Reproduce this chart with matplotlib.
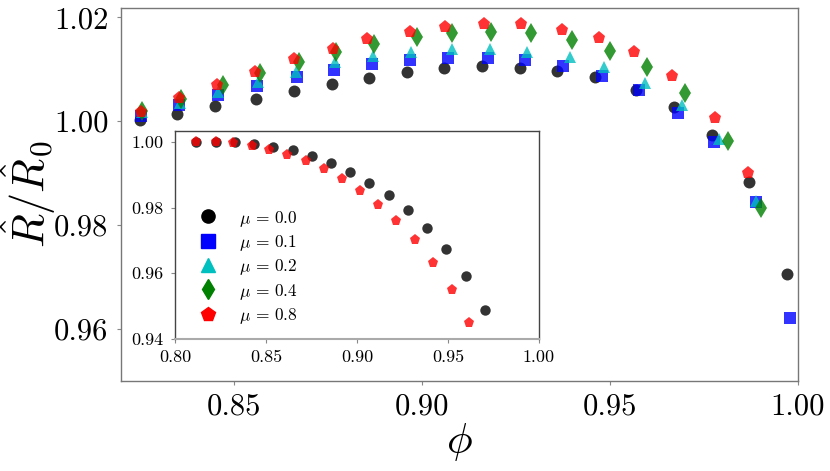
import matplotlib
matplotlib.use("Agg")
import matplotlib.pyplot as plt
from matplotlib.lines import Line2D

plt.rcParams['font.family'] = 'serif'
plt.rcParams['font.serif'] = ['cmr10']
plt.rcParams['mathtext.fontset'] = 'cm'
plt.rcParams['axes.formatter.use_mathtext'] = True

# ---- main panel data ----
phi_00 = [0.825, 0.835, 0.845, 0.856, 0.866, 0.876, 0.886, 0.896, 0.906, 0.916,
          0.926, 0.936, 0.946, 0.957, 0.967, 0.977, 0.987, 0.997]
R_00 = [1.0002, 1.0014, 1.0030, 1.0042, 1.0058, 1.0072, 1.0084, 1.0095, 1.0102, 1.0107,
        1.0103, 1.0097, 1.0085, 1.0061, 1.0027, 0.9973, 0.9883, 0.9705]

phi_01 = [0.8253, 0.8355, 0.8457, 0.8561, 0.8668, 0.8766, 0.8868, 0.8967, 0.9069, 0.9177,
          0.9275, 0.9374, 0.9480, 0.9578, 0.9680, 0.9776, 0.9888, 0.9978]
R_01 = [1.0011, 1.0031, 1.0051, 1.0068, 1.0085, 1.0098, 1.0110, 1.0117, 1.0121, 1.0122,
        1.0117, 1.0107, 1.0088, 1.0061, 1.0016, 0.9960, 0.9844, 0.9621]

phi_02 = [0.8255, 0.8357, 0.8459, 0.8565, 0.8666, 0.8769, 0.8871, 0.8972, 0.9080, 0.9180,
          0.9279, 0.9393, 0.9483, 0.9592, 0.9691, 0.9791, 0.9889]
R_02 = [1.0017, 1.0035, 1.0056, 1.0075, 1.0094, 1.0115, 1.0125, 1.0134, 1.0139, 1.0140,
        1.0134, 1.0123, 1.0104, 1.0074, 1.0031, 0.9966, 0.9847]

phi_04 = [0.8255, 0.8359, 0.8471, 0.8570, 0.8672, 0.8772, 0.8873, 0.8987, 0.9081, 0.9184,
          0.9291, 0.9399, 0.9501, 0.9598, 0.9700, 0.9815, 0.9902]
R_04 = [1.0020, 1.0043, 1.0070, 1.0093, 1.0115, 1.0133, 1.0149, 1.0163, 1.0170, 1.0172,
        1.0169, 1.0157, 1.0136, 1.0104, 1.0054, 0.9962, 0.9833]

phi_08 = [0.8253, 0.8355, 0.8455, 0.8557, 0.8659, 0.8763, 0.8855, 0.8967, 0.9062, 0.9164,
          0.9264, 0.9372, 0.9472, 0.9565, 0.9666, 0.9780, 0.9866]
R_08 = [1.0017, 1.0044, 1.0070, 1.0095, 1.0120, 1.0140, 1.0158, 1.0172, 1.0181, 1.0187,
        1.0187, 1.0176, 1.0160, 1.0133, 1.0088, 1.0006, 0.9900]

# ---- inset data ----
in_phi_00 = [0.8114, 0.8224, 0.8330, 0.8434, 0.8540, 0.8647, 0.8751, 0.8855, 0.8962, 0.9066,
             0.9174, 0.9278, 0.9385, 0.9491, 0.9597, 0.9703]
in_R_00 = [1.0000, 1.0000, 0.9998, 0.9993, 0.9984, 0.9974, 0.9956, 0.9935, 0.9909, 0.9876,
           0.9839, 0.9794, 0.9739, 0.9673, 0.9591, 0.9489]
in_phi_08 = [0.8114, 0.8224, 0.8317, 0.8425, 0.8516, 0.8615, 0.8718, 0.8817, 0.8918, 0.9018,
             0.9117, 0.9214, 0.9319, 0.9420, 0.9520, 0.9617]
in_R_08 = [1.0000, 1.0000, 0.9995, 0.9988, 0.9976, 0.9961, 0.9941, 0.9916, 0.9886, 0.9850,
           0.9807, 0.9758, 0.9700, 0.9631, 0.9548, 0.9448]

labels = [r'$\mu\,=\,0.0$', r'$\mu\,=\,0.1$', r'$\mu\,=\,0.2$', r'$\mu\,=\,0.4$', r'$\mu\,=\,0.8$']
main_x_ticks = [0.85, 0.90, 0.95, 1.00]
main_y_ticks = [0.96, 0.98, 1.00, 1.02]
in_x_ticks = [0.80, 0.85, 0.90, 0.95, 1.00]
in_y_ticks = [0.94, 0.96, 0.98, 1.00]

colors = ['k', 'b', 'c', 'g', 'r']
markers = ['o', 's', '^', 'd', 'p']

fig = plt.figure(figsize=(8.3, 4.71), dpi=100)
ax = fig.add_axes([0.1458, 0.1911, 0.8157, 0.7919])

series = [(phi_00, R_00), (phi_01, R_01), (phi_02, R_02), (phi_04, R_04), (phi_08, R_08)]
sizes = [8.6, 8.6, 8.6, 10.5, 9.5]
for (x, y), c, m, s in zip(series, colors, markers, sizes):
    ax.plot(x, y, linestyle='none', marker=m, color=c, ms=s, alpha=0.8, mew=0)

ax.set_xlim(0.82, 1.0)
ax.set_ylim(0.950, 1.0218)
ax.set_xticks(main_x_ticks)
ax.set_xticklabels(['%.2f' % v for v in main_x_ticks])
ax.set_yticks(main_y_ticks)
ax.set_yticklabels(['%.2f' % v for v in main_y_ticks])
ax.tick_params(axis='both', labelsize=22, length=3, width=0.8, color='#888', pad=6)
for sp in ax.spines.values():
    sp.set_color('#777')
    sp.set_linewidth(1.0)
ax.set_xlabel(r'$\phi$', fontsize=31, labelpad=0)
ax.set_ylabel(r'$\hat{R}/\hat{R}_0$', fontsize=32)
ax.yaxis.set_label_coords(-0.093, 0.5)

# ---- inset ----
ins = fig.add_axes([0.2108, 0.2803, 0.4386, 0.4416])
ins.plot(in_phi_00, in_R_00, linestyle='none', marker='o', color='k', ms=7.5, alpha=0.8, mew=0)
ins.plot(in_phi_08, in_R_08, linestyle='none', marker='p', color='r', ms=8, alpha=0.8, mew=0)
ins.set_xlim(0.80, 1.00)
ins.set_ylim(0.94, 1.0033)
ins.set_xticks(in_x_ticks)
ins.set_xticklabels(['%.2f' % v for v in in_x_ticks])
ins.set_yticks(in_y_ticks)
ins.set_yticklabels(['%.2f' % v for v in in_y_ticks])
ins.tick_params(axis='both', labelsize=13, length=3, width=0.8, color='#888', pad=5)
for name, sp in ins.spines.items():
    sp.set_color('#444')
    sp.set_linewidth(1.0)
ins.spines['bottom'].set_color('#aaa')
ins.spines['bottom'].set_linewidth(1.5)

handles = [Line2D([], [], linestyle='none', marker=m, color=c, ms=s)
           for c, m, s in zip(colors, markers, [9.5, 9.5, 9.5, 10.5, 10])]
ins.legend(handles, labels, loc='center left', bbox_to_anchor=(0.0, 0.345),
           frameon=False, fontsize=12.5, labelspacing=0.25, handletextpad=0.8)

fig.savefig('out.png', dpi=100)
